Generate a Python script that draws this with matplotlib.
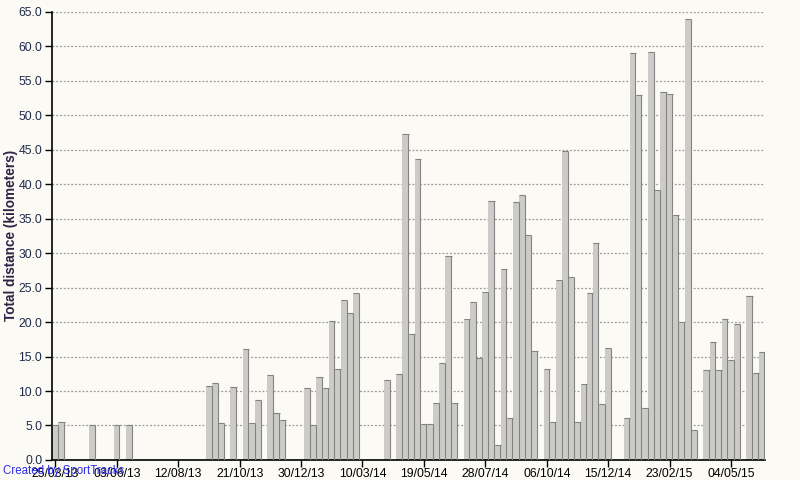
import matplotlib
matplotlib.use("Agg")
import matplotlib.pyplot as plt
import numpy as np

# Weekly total distance (km), weeks starting 25/03/13
distances = [
    5.0, 5.5, 0, 0, 0, 0, 5.0, 0, 0, 0,            # 0-9
    5.0, 0, 5.0, 0, 0, 0, 0, 0, 0, 0,              # 10-19
    0, 0, 0, 0, 0, 10.7, 11.1, 5.3, 0, 10.55,      # 20-29
    0, 16.1, 5.3, 8.7, 0, 12.3, 6.8, 5.8, 0, 0,    # 30-39
    0, 10.4, 5.0, 12.0, 10.4, 20.1, 13.2, 23.2, 21.3, 24.2,  # 40-49
    0, 0, 0, 0, 11.6, 0, 12.4, 47.3, 18.2, 43.6,   # 50-59
    5.2, 5.2, 8.2, 14.0, 29.6, 8.2, 0, 20.4, 22.9, 14.8,  # 60-69
    24.3, 37.5, 2.1, 27.7, 6.05, 37.4, 38.4, 32.6, 15.8, 0,  # 70-79
    13.2, 5.5, 26.1, 44.8, 26.5, 5.5, 11.0, 24.2, 31.45, 8.1,  # 80-89
    16.2, 0, 0, 6.05, 59.0, 52.9, 7.5, 59.2, 39.1, 53.4,  # 90-99
    53.0, 35.5, 20.0, 64.0, 4.3, 0, 13.0, 17.1, 13.0, 20.4,  # 100-109
    14.5, 19.7, 0, 23.8, 12.6, 15.6,               # 110-115
]
tick_labels = ["25/03/13", "03/06/13", "12/08/13", "21/10/13", "30/12/13",
               "10/03/14", "19/05/14", "28/07/14", "06/10/14", "15/12/14",
               "23/02/15", "04/05/15"]
y_ticks = [0, 5, 10, 15, 20, 25, 30, 35, 40, 45, 50, 55, 60, 65]

bg = "#FBFAF5"
plt.rcParams["font.family"] = ["Liberation Sans", "DejaVu Sans"]

fig = plt.figure(figsize=(8, 4.8), dpi=100, facecolor=bg)
ax = fig.add_axes([0.065, 0.0417, 0.891, 0.934], facecolor=bg)

weeks = np.arange(len(distances))
vals = np.array(distances, dtype=float)
mask = vals > 0
x = weeks[mask]
v = vals[mask]

ax.bar(x, v, width=1.0, color="#CCCBC7", edgecolor="none", zorder=2)
ax.hlines(v, x - 0.5, x + 0.5, colors="#838383", linewidth=0.8, zorder=3)
ax.vlines(x + 0.42, 0, v, colors="#838383", linewidth=0.8, zorder=3)

ax.set_xlim(-0.55, len(distances) - 0.5)
ax.set_ylim(0, 65)
ax.set_yticks(y_ticks)
ax.set_yticklabels([f"{t:.1f}" for t in y_ticks])
ax.set_xticks(np.arange(0, 10 * len(tick_labels), 10))
ax.set_xticklabels(tick_labels)

ax.grid(axis="y", linestyle=(0, (1.5, 1.5)), color="#999999", linewidth=0.9, zorder=1)
for s in ["top", "right"]:
    ax.spines[s].set_visible(False)
ax.spines["left"].set_color("black")
ax.spines["bottom"].set_color("black")
ax.spines["left"].set_linewidth(1.2)
ax.spines["bottom"].set_linewidth(1.2)

ax.tick_params(axis="y", length=5, width=1, labelsize=8.8, colors="black",
               labelcolor="#1F2A4A", pad=2)
ax.tick_params(axis="x", length=5, width=1, labelsize=8.8, colors="black",
               labelcolor="black", pad=1)

ax.set_ylabel("Total distance (kilometers)", fontsize=9.8, fontweight="bold",
              color="#2E2346")
ax.yaxis.set_label_coords(-0.047, 0.5)

fig.text(0.004, 0.018, "Created by SportTracks", fontsize=8.3,
         color="#2B2BE6", ha="left", va="center")

fig.savefig("out.png", dpi=100, facecolor=bg)
